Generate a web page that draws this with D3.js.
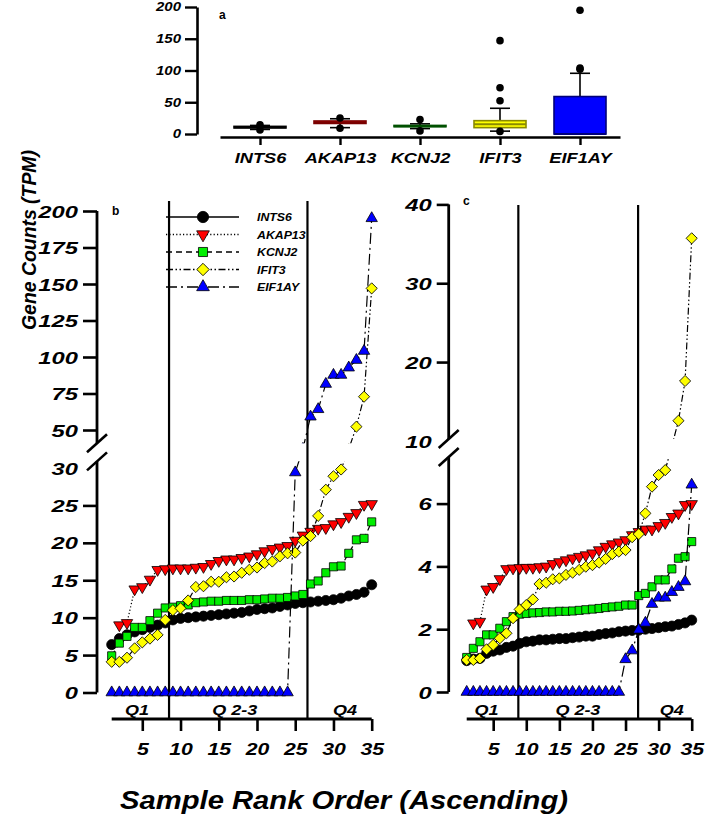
<!DOCTYPE html>
<html><head><meta charset="utf-8">
<script src="https://cdn.jsdelivr.net/npm/d3@7"></script>
<style>
body{margin:0;background:#fff}
svg{display:block}
text{font-family:"Liberation Sans",Arial,sans-serif;font-weight:bold;font-style:italic;fill:#000}
text.panel{font-style:normal}
</style>
</head><body>
<svg id="chart" width="709" height="822"></svg>
<script>
// ---------------- DATA ----------------
const genes = ["INTS6", "AKAP13", "KCNJ2", "IFIT3", "EIF1AY"];
const samples = d3.range(1, 36);

// panel a box statistics (TPM)
const boxQ1  = [9.5, 16.6, 11.5, 10.0, 0];
const boxMed = [10.6, 18.0, 12.4, 15.5, 0];
const boxQ3  = [12.0, 20.5, 13.5, 21.0, 59];
const whiskLo = [7.2, 10.0, 8.5, 4.5, 0];
const whiskHi = [13.5, 24.0, 16.0, 40.5, 95.6];
const outliers = [[6.4, 14.4], [9.0, 25.2], [4.9, 22.8], [4.1, 52.3, 72.8, 147], [102, 104, 195]];
const aTicks = [0, 50, 100, 150, 200];

// panel b (TPM, ranked samples)
const bINTS6  = [6.4, 7.2, 7.7, 8.1, 8.4, 8.7, 9.0, 9.3, 9.7, 9.9, 10.0, 10.1, 10.2, 10.3, 10.4, 10.5, 10.6, 10.7, 10.9, 11.1, 11.2, 11.3, 11.5, 11.7, 11.9, 12.0, 12.1, 12.2, 12.3, 12.4, 12.6, 12.9, 13.1, 13.4, 14.4];
const bAKAP13 = [null, 9.0, 9.3, 13.8, 14.1, 15.1, 16.4, 16.5, 16.6, 16.6, 16.6, 16.7, 16.8, 17.2, 17.6, 17.8, 17.8, 18.0, 18.2, 18.5, 18.9, 19.2, 19.4, 19.6, 20.3, 21.0, 21.5, 21.9, 22.0, 22.5, 22.8, 23.5, 24.0, 25.1, 25.2];
const bKCNJ2  = [4.9, 6.6, 7.5, 8.7, 8.7, 9.6, 10.6, 11.3, 11.4, 11.6, 11.7, 12.0, 12.1, 12.2, 12.2, 12.3, 12.3, 12.3, 12.4, 12.4, 12.5, 12.6, 12.6, 12.7, 12.9, 13.1, 14.5, 14.9, 16.0, 16.8, 16.9, 18.6, 20.4, 20.6, 22.8];
const bIFIT3  = [4.1, 4.1, 4.65, 5.9, 6.7, 7.2, 7.7, 9.7, 11.0, 11.25, 12.3, 14.1, 14.2, 14.8, 14.8, 15.4, 15.5, 16.0, 16.4, 16.7, 17.3, 17.5, 18.2, 18.6, 18.7, 20.3, 20.9, 23.6, 27.1, 28.9, 29.8, 40, 52.3, 72.8, 147];
const bEIF1AY = [0, 0, 0, 0, 0, 0, 0, 0, 0, 0, 0, 0, 0, 0, 0, 0, 0, 0, 0, 0, 0, 0, 0, 0, 29.4, 40, 59.1, 64.2, 81.5, 87.7, 87.7, 92.7, 97.9, 104.1, 195];
const bTicksLower = [0, 5, 10, 15, 20, 25, 30];
const bTicksUpper = [50, 75, 100, 125, 150, 175, 200];
const bLabelOnly = [30];

// panel c
const cINTS6  = [1.0, 1.05, 1.07, 1.23, 1.3, 1.34, 1.42, 1.46, 1.55, 1.6, 1.62, 1.66, 1.66, 1.68, 1.7, 1.7, 1.73, 1.75, 1.78, 1.78, 1.83, 1.86, 1.88, 1.92, 1.94, 1.96, 1.97, 2.0, 2.02, 2.05, 2.08, 2.1, 2.15, 2.2, 2.29];
const cAKAP13 = [null, 2.19, 2.24, 3.27, 3.35, 3.6, 3.92, 3.94, 3.95, 3.96, 3.96, 3.98, 4.0, 4.08, 4.14, 4.2, 4.26, 4.31, 4.36, 4.42, 4.52, 4.63, 4.71, 4.77, 4.84, 5.0, 5.1, 5.18, 5.18, 5.29, 5.39, 5.58, 5.69, 5.96, 5.99];
const cKCNJ2  = [1.1, 1.39, 1.6, 1.82, 1.82, 2.03, 2.24, 2.4, 2.48, 2.5, 2.52, 2.53, 2.55, 2.55, 2.57, 2.57, 2.58, 2.6, 2.62, 2.64, 2.66, 2.69, 2.71, 2.73, 2.77, 2.77, 3.07, 3.14, 3.35, 3.57, 3.57, 3.92, 4.26, 4.31, 4.79];
const cIFIT3  = [1.02, 1.02, 1.07, 1.36, 1.5, 1.71, 1.87, 2.35, 2.63, 2.77, 2.95, 3.44, 3.48, 3.59, 3.62, 3.73, 3.8, 3.89, 3.99, 4.04, 4.12, 4.24, 4.39, 4.47, 4.52, 4.93, 5.03, 5.69, 6.54, 6.91, 7.2, 9.5, 12.56, 17.6, 35.7];
const cEIF1AY = [0, 0, 0, 0, 0, 0, 0, 0, 0, 0, 0, 0, 0, 0, 0, 0, 0, 0, 0, 0, 0, 0, 0, 0, 1.04, 1.32, 1.98, 2.2, 2.8, 3.0, 3.0, 3.18, 3.34, 3.52, 6.6];
const cTicksLower = [0, 2, 4, 6, 10];
const cTicksUpper = [20, 30, 40];
const cLabelOnly = [10];

const xTicks = [5, 10, 15, 20, 25, 30, 35];
const qLabels = ["Q1", "Q 2-3", "Q4"];
const qCutsB = [8.5, 26.6];
const qCutsC = [8.8, 26.9];
const qPosB = [4.3, 17.1, 31.5];
const qPosC = [4.0, 17.8, 32.0];

// ---------------- STYLES ----------------
const boxFill   = ["#222222", "#ee0000", "#00c800", "#ffff00", "#0000ff"];
const boxStroke = ["#000000", "#7a0000", "#005000", "#8a8a00", "#00007a"];
const markFill  = ["#000000", "#ff0000", "#00ee00", "#ffff00", "#0000ff"];
const markType  = ["circle", "tridown", "square", "diamond", "triup"];
const dashes    = [null, "1.2,2.2", "6,4", "7,2.5,1.5,2.5,1.5,2.5", "11,4,2,4"];

const svg = d3.select("#chart");

function symPath(type, size) {
  if (type === "circle") return d3.symbol(d3.symbolCircle, size)();
  if (type === "square") return d3.symbol(d3.symbolSquare, size)();
  if (type === "diamond") return d3.symbol(d3.symbolSquare, size)();
  return d3.symbol(d3.symbolTriangle, size)();
}
function symRot(type) {
  if (type === "tridown") return 180;
  if (type === "diamond") return 45;
  return 0;
}
const symSize = {circle: 80, square: 66, diamond: 62, tridown: 56, triup: 56};

function styleLeftAxis(g, size, sx, offset, labelOnly) {
  g.select(".domain").remove();
  g.selectAll(".tick line").attr("stroke", "#000").attr("stroke-width", 2.6)
    .attr("display", d => labelOnly && labelOnly.includes(d) ? "none" : null);
  g.selectAll(".tick text").attr("font-size", size).attr("x", -offset / sx)
    .attr("transform", `scale(${sx},1)`).attr("dy", "0.36em");
}
function styleBottomAxis(g, size, sx, yOff) {
  g.select(".domain").remove();
  g.selectAll(".tick line").attr("stroke", "#000").attr("stroke-width", 2.6);
  g.selectAll(".tick text").attr("font-size", size).attr("y", yOff)
    .attr("transform", `scale(${sx},1)`).attr("dy", "0.71em");
}

// ---------------- PANEL a ----------------
const xA = d3.scalePoint().domain(genes).range([220, 620]).padding(0.5);
const yA = d3.scaleLinear().domain([0, 200]).range([134, 7]);
const gA = svg.append("g");
const axAy = gA.append("g").attr("transform", "translate(197,0)")
  .call(d3.axisLeft(yA).tickValues(aTicks).tickSize(12).tickSizeOuter(0));
axAy.select(".domain").attr("stroke-width", 2.6);
axAy.selectAll(".tick line").attr("stroke-width", 2.4);
axAy.selectAll(".tick text").attr("font-size", 12).attr("x", -16 / 1.25)
  .attr("transform", "scale(1.25,1)");
const axAx = gA.append("g").attr("transform", "translate(0,137)")
  .call(d3.axisBottom(xA).tickSize(8).tickSizeOuter(0));
axAx.select(".domain").attr("stroke-width", 2.4);
axAx.selectAll(".tick line").attr("stroke-width", 2.4);
axAx.selectAll(".tick text").attr("font-size", 14).attr("y", 16).attr("transform", "scale(1.3,1)")
  .attr("x", 0).attr("text-anchor", "middle");

gA.append("text").attr("class", "panel").attr("x", 219).attr("y", 19).attr("font-size", 12).text("a");

const bw = 52;
genes.forEach((g, i) => {
  const cx = xA(g);
  const grp = gA.append("g");
  grp.append("line").attr("x1", cx).attr("x2", cx).attr("y1", yA(boxQ3[i])).attr("y2", yA(whiskHi[i]))
    .attr("stroke", "#000").attr("stroke-width", 1.6);
  grp.append("line").attr("x1", cx).attr("x2", cx).attr("y1", yA(boxQ1[i])).attr("y2", yA(whiskLo[i]))
    .attr("stroke", "#000").attr("stroke-width", 1.6);
  [whiskHi[i], whiskLo[i]].forEach(v => {
    grp.append("line").attr("x1", cx - 10).attr("x2", cx + 10).attr("y1", yA(v)).attr("y2", yA(v))
      .attr("stroke", "#000").attr("stroke-width", 1.6);
  });
  grp.append("rect").attr("x", cx - bw / 2).attr("width", bw)
    .attr("y", yA(boxQ3[i])).attr("height", Math.max(1, yA(boxQ1[i]) - yA(boxQ3[i])))
    .attr("fill", boxFill[i]).attr("stroke", boxStroke[i]).attr("stroke-width", 1.6);
  grp.append("line").attr("x1", cx - bw / 2).attr("x2", cx + bw / 2)
    .attr("y1", yA(boxMed[i])).attr("y2", yA(boxMed[i]))
    .attr("stroke", boxStroke[i]).attr("stroke-width", 2);
  outliers[i].forEach(v => {
    grp.append("circle").attr("cx", cx).attr("cy", yA(v)).attr("r", 3.8).attr("fill", "#000");
  });
});

// ---------------- line panels ----------------
function linePanel(opts) {
  const {xS, yS, axisX, ticksLower, ticksUpper, labelOnly, gapVals, cuts, qPos, data, tickLen, label, labelPos, dividerTop} = opts;
  const g = svg.append("g");
  const x0 = xS(1), x1 = xS(35);
  const yAxisG = g.append("g").attr("transform", `translate(${axisX},0)`)
    .call(d3.axisLeft(yS).tickValues(ticksLower.concat(ticksUpper)).tickSize(tickLen));
  styleLeftAxis(yAxisG, 17, 1.4, tickLen + 5, labelOnly);
  const yTop = yS(yS.domain()[yS.domain().length - 1]);
  const gapTop = yS(gapVals[1]), gapBot = yS(gapVals[0]);
  g.append("line").attr("x1", axisX).attr("x2", axisX).attr("y1", yTop).attr("y2", gapTop)
    .attr("stroke", "#000").attr("stroke-width", 2.8);
  g.append("line").attr("x1", axisX).attr("x2", axisX).attr("y1", gapBot).attr("y2", yS(0))
    .attr("stroke", "#000").attr("stroke-width", 2.8);
  [gapTop, gapBot].forEach(yy => {
    g.append("line").attr("x1", axisX - 10).attr("x2", axisX + 10).attr("y1", yy + 9).attr("y2", yy - 9)
      .attr("stroke", "#000").attr("stroke-width", 2.6);
  });
  const xAxisG = g.append("g").attr("transform", "translate(0,719)")
    .call(d3.axisBottom(xS).tickValues(xTicks).tickSize(12));
  styleBottomAxis(xAxisG, 17, 1.25, 24);
  g.append("line").attr("x1", x0).attr("x2", x1).attr("y1", 719).attr("y2", 719)
    .attr("stroke", "#000").attr("stroke-width", 2.8);
  cuts.forEach(c => {
    g.append("line").attr("x1", xS(c)).attr("x2", xS(c)).attr("y1", dividerTop).attr("y2", 719)
      .attr("stroke", "#000").attr("stroke-width", 2.2);
  });
  qLabels.forEach((q, i) => {
    g.append("text").attr("transform", `translate(${xS(qPos[i])},710) scale(1.2,1)`)
      .attr("text-anchor", "middle").attr("dominant-baseline", "central").attr("font-size", 15).text(q);
  });
  g.append("text").attr("class", "panel").attr("x", labelPos[0]).attr("y", labelPos[1]).attr("font-size", 12)
    .text(label);
  const cid = "clip" + label;
  const cp = svg.append("clipPath").attr("id", cid);
  cp.append("rect").attr("x", 0).attr("y", 0).attr("width", 709).attr("height", gapTop);
  cp.append("rect").attr("x", 0).attr("y", gapBot).attr("width", 709).attr("height", 822 - gapBot);
  const dg = g.append("g").attr("clip-path", `url(#${cid})`);
  data.forEach((vals, i) => {
    const pts = samples.map((s, k) => ({s, v: vals[k]})).filter(p => p.v !== null);
    const line = d3.line().x(p => xS(p.s)).y(p => yS(p.v));
    dg.append("path").attr("d", line(pts)).attr("fill", "none").attr("stroke", "#000")
      .attr("stroke-width", 1.2).attr("stroke-dasharray", dashes[i]);
    dg.selectAll(null).data(pts).enter().append("path")
      .attr("d", symPath(markType[i], symSize[markType[i]]))
      .attr("transform", p => `translate(${xS(p.s)},${yS(p.v)}) rotate(${symRot(markType[i])})`)
      .attr("fill", markFill[i]).attr("stroke", "#000").attr("stroke-width", 0.8);
  });
  return g;
}

const xB = d3.scaleLinear().domain([0, 35]).range([104.05, 371.7]);
const yB = d3.scaleLinear().domain([0, 30, 50, 200]).range([692.5, 468, 430, 211]);
linePanel({xS: xB, yS: yB, axisX: 97, ticksLower: bTicksLower, ticksUpper: bTicksUpper,
  labelOnly: bLabelOnly, gapVals: [33.5, 43], cuts: qCutsB, qPos: qPosB,
  data: [bINTS6, bAKAP13, bKCNJ2, bIFIT3, bEIF1AY], tickLen: 14, label: "b", labelPos: [112, 215], dividerTop: 201});

const xC = d3.scaleLinear().domain([0, 35]).range([460.1, 691.7]);
const yC = d3.scaleLinear().domain([0, 7, 10, 40]).range([692, 472.2, 440.9, 204.4]);
linePanel({xS: xC, yS: yC, axisX: 448.7, ticksLower: cTicksLower, ticksUpper: cTicksUpper,
  labelOnly: cLabelOnly, gapVals: [8.46, 10.24], cuts: qCutsC, qPos: qPosC,
  data: [cINTS6, cAKAP13, cKCNJ2, cIFIT3, cEIF1AY], tickLen: 12, label: "c", labelPos: [463, 205], dividerTop: 205});

// legend in panel b
const leg = svg.append("g");
genes.forEach((g, i) => {
  const yy = 217 + i * 17.5;
  leg.append("line").attr("x1", 166).attr("x2", 239).attr("y1", yy).attr("y2", yy)
    .attr("stroke", "#000").attr("stroke-width", 1.3).attr("stroke-dasharray", dashes[i]);
  leg.append("path").attr("d", symPath(markType[i], symSize[markType[i]] * 1.25))
    .attr("transform", `translate(203,${yy}) rotate(${symRot(markType[i])})`)
    .attr("fill", markFill[i]).attr("stroke", "#000").attr("stroke-width", 0.8);
  leg.append("text").attr("transform", `translate(257,${yy}) scale(1.12,1)`).attr("dominant-baseline", "central")
    .attr("font-size", 11).text(g);
});

// axis titles
svg.append("text").attr("transform", "translate(28,240) rotate(-90)").attr("text-anchor", "middle")
  .attr("dominant-baseline", "central").attr("font-size", 21)
  .attr("textLength", 180).attr("lengthAdjust", "spacingAndGlyphs").text("Gene Counts (TPM)");
svg.append("text").attr("x", 344).attr("y", 800).attr("text-anchor", "middle")
  .attr("dominant-baseline", "central").attr("font-size", 26)
  .attr("textLength", 448).attr("lengthAdjust", "spacingAndGlyphs").text("Sample Rank Order (Ascending)");
</script>
</body></html>
